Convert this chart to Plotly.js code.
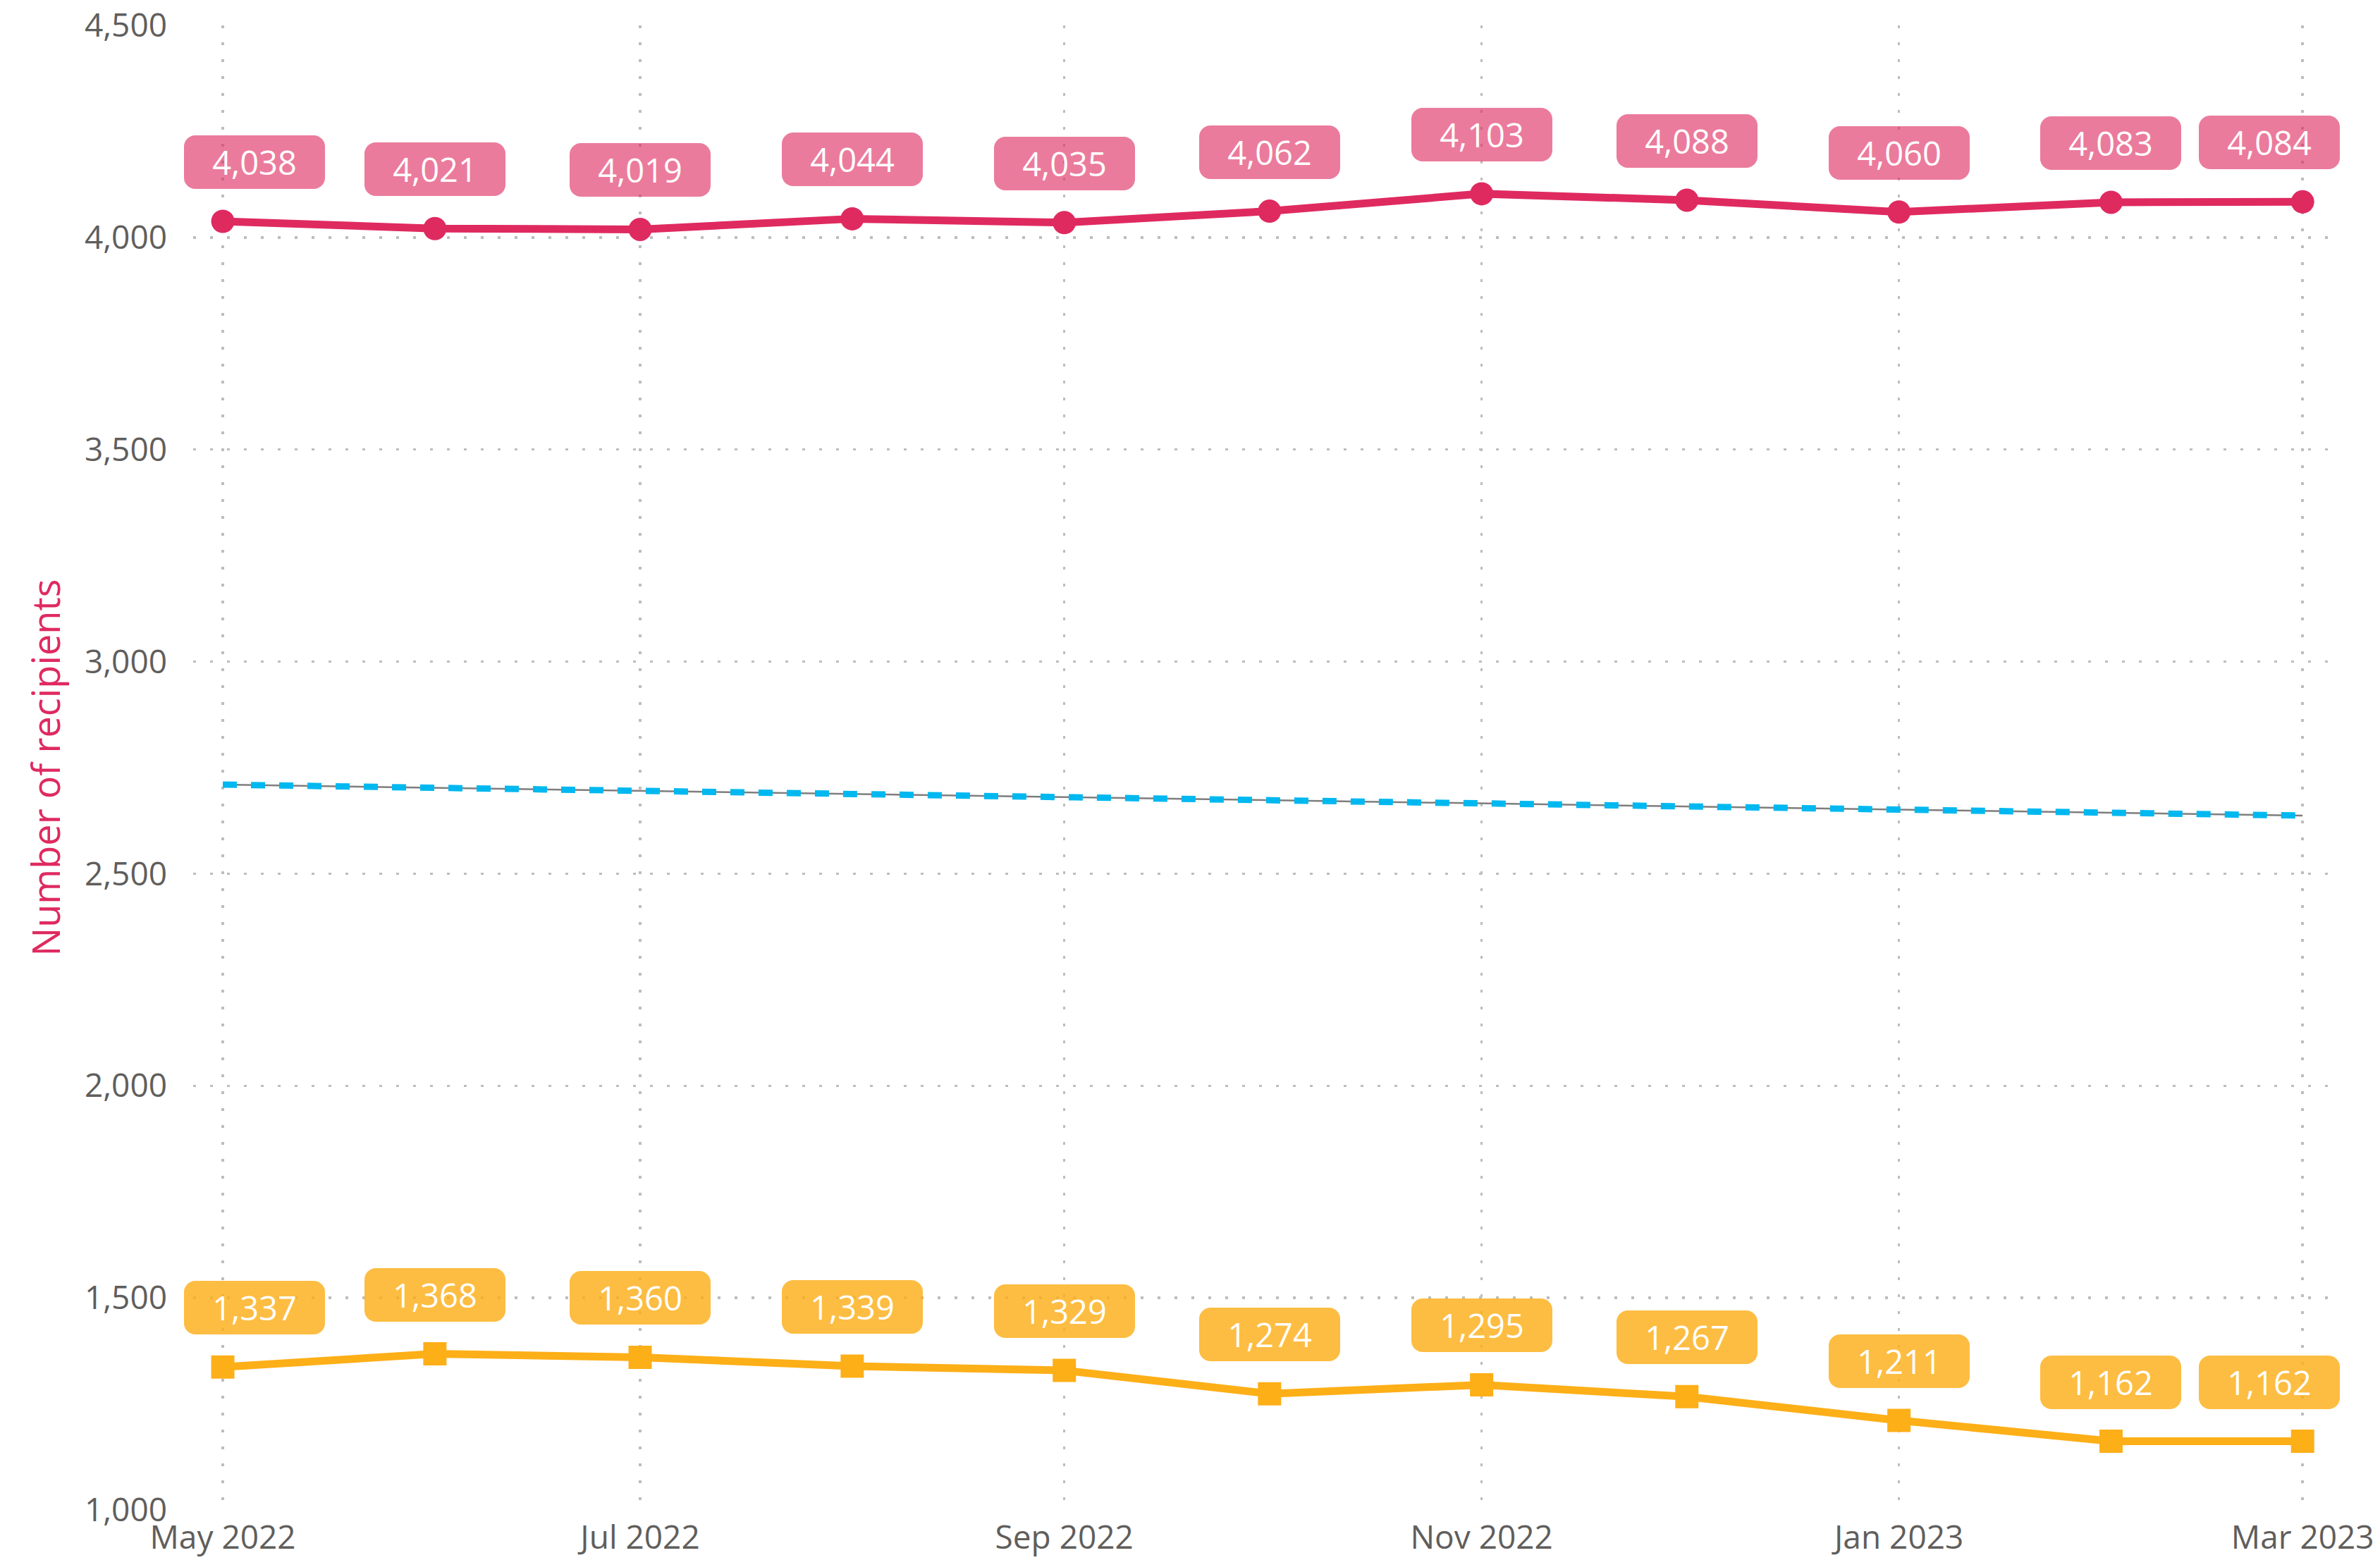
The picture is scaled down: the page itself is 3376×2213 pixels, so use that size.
<!DOCTYPE html>
<html>
<head>
<meta charset="utf-8">
<script src="https://cdn.plot.ly/plotly-3.0.1.min.js"></script>
<style>
  html, body { margin: 0; padding: 0; background: #ffffff; }
  #chart { width: 3376px; height: 2213px; }
</style>
</head>
<body>
<div id="chart"></div>
<script>
// ---- data ----
const months = ['2022-05-01','2022-06-01','2022-07-01','2022-08-01','2022-09-01','2022-10-01',
                '2022-11-01','2022-12-01','2023-01-01','2023-02-01','2023-03-01'];
const upperSeries = [4038, 4021, 4019, 4044, 4035, 4062, 4103, 4088, 4060, 4083, 4084];
const lowerSeries = [1337, 1368, 1360, 1339, 1329, 1274, 1295, 1267, 1211, 1162, 1162];
const trendDates = ['2022-05-01', '2023-03-01'];
const trendValues = [2710, 2637];
const yTickVals = [1000, 1500, 2000, 2500, 3000, 3500, 4000, 4500];

// ---- styles ----
const FONT = '"Segoe UI", "Open Sans", "Noto Sans", sans-serif';
const PINK = '#DF2A60';
const PINK_BOX = 'rgba(223,42,96,0.62)';
const ORANGE = '#FDAF18';
const ORANGE_BOX = 'rgba(252,175,24,0.82)';
const CYAN = '#00B8F0';
const TICK_COLOR = '#605E5C';
const GRID = '#BDBDBD';

const traces = [
  { x: trendDates, y: trendValues, type: 'scatter', mode: 'lines',
    line: { color: '#7E7E7E', width: 2.5 }, hoverinfo: 'skip', showlegend: false },
  { x: trendDates, y: trendValues, type: 'scatter', mode: 'lines',
    line: { color: CYAN, width: 9, dash: '20px,20px' }, hoverinfo: 'skip', showlegend: false },
  { x: months, y: upperSeries, type: 'scatter', mode: 'lines+markers', name: 'Upper',
    line: { color: PINK, width: 11 }, marker: { symbol: 'circle', size: 33, color: PINK },
    showlegend: false },
  { x: months, y: lowerSeries, type: 'scatter', mode: 'lines+markers', name: 'Lower',
    line: { color: ORANGE, width: 11 }, marker: { symbol: 'square', size: 33, color: ORANGE },
    showlegend: false }
];

function fmt(v) { return v.toLocaleString('en-US'); }

const annotations = [];
function addLabels(values, boxColor) {
  values.forEach((v, i) => {
    let xs = 0;
    if (i === 0) xs = 45;
    if (i === values.length - 1) xs = -47;
    annotations.push({
      x: months[i], y: v, xref: 'x', yref: 'y',
      text: fmt(v), showarrow: false,
      xanchor: 'center', yanchor: 'middle',
      xshift: xs, yshift: 84,
      width: 200, height: 76,
      bgcolor: boxColor, borderwidth: 0, borderpad: 0,
      font: { family: FONT, size: 47, color: '#FFFFFF' }
    });
  });
}
addLabels(upperSeries, PINK_BOX);
addLabels(lowerSeries, ORANGE_BOX);

const layout = {
  width: 3376, height: 2213,
  margin: { l: 274, r: 73, t: 36, b: 71, pad: 0 },
  paper_bgcolor: '#FFFFFF', plot_bgcolor: '#FFFFFF',
  showlegend: false,
  font: { family: FONT, color: TICK_COLOR, size: 46 },
  xaxis: {
    type: 'date',
    range: ['2022-04-26 16:00', '2023-03-04 19:00'],
    tick0: '2022-05-01', dtick: 'M2', tickformat: '%b %Y',
    ticks: '', showline: false, zeroline: false,
    showgrid: true, gridcolor: GRID, gridwidth: 3.5, griddash: '3.5px,20.5px',
    tickfont: { family: FONT, size: 46, color: TICK_COLOR },
    ticklabelstandoff: 8,
    fixedrange: true
  },
  yaxis: {
    range: [1000, 4500],
    tickvals: yTickVals, tickformat: ',d',
    ticks: '', showline: false, zeroline: false,
    showgrid: true, gridcolor: GRID, gridwidth: 3.5, griddash: '3.5px,20.5px',
    tickfont: { family: FONT, size: 46, color: TICK_COLOR },
    ticklabelstandoff: 36,
    title: { text: 'Number of recipients', font: { family: FONT, size: 54, color: PINK }, standoff: 16 },
    fixedrange: true
  },
  annotations: annotations
};

Plotly.newPlot('chart', traces, layout, { displayModeBar: false, staticPlot: true }).then(() => {
  document.querySelectorAll('.annotation rect.bg').forEach(r => {
    r.setAttribute('rx', 16);
    r.setAttribute('ry', 16);
  });
});
</script>
</body>
</html>
